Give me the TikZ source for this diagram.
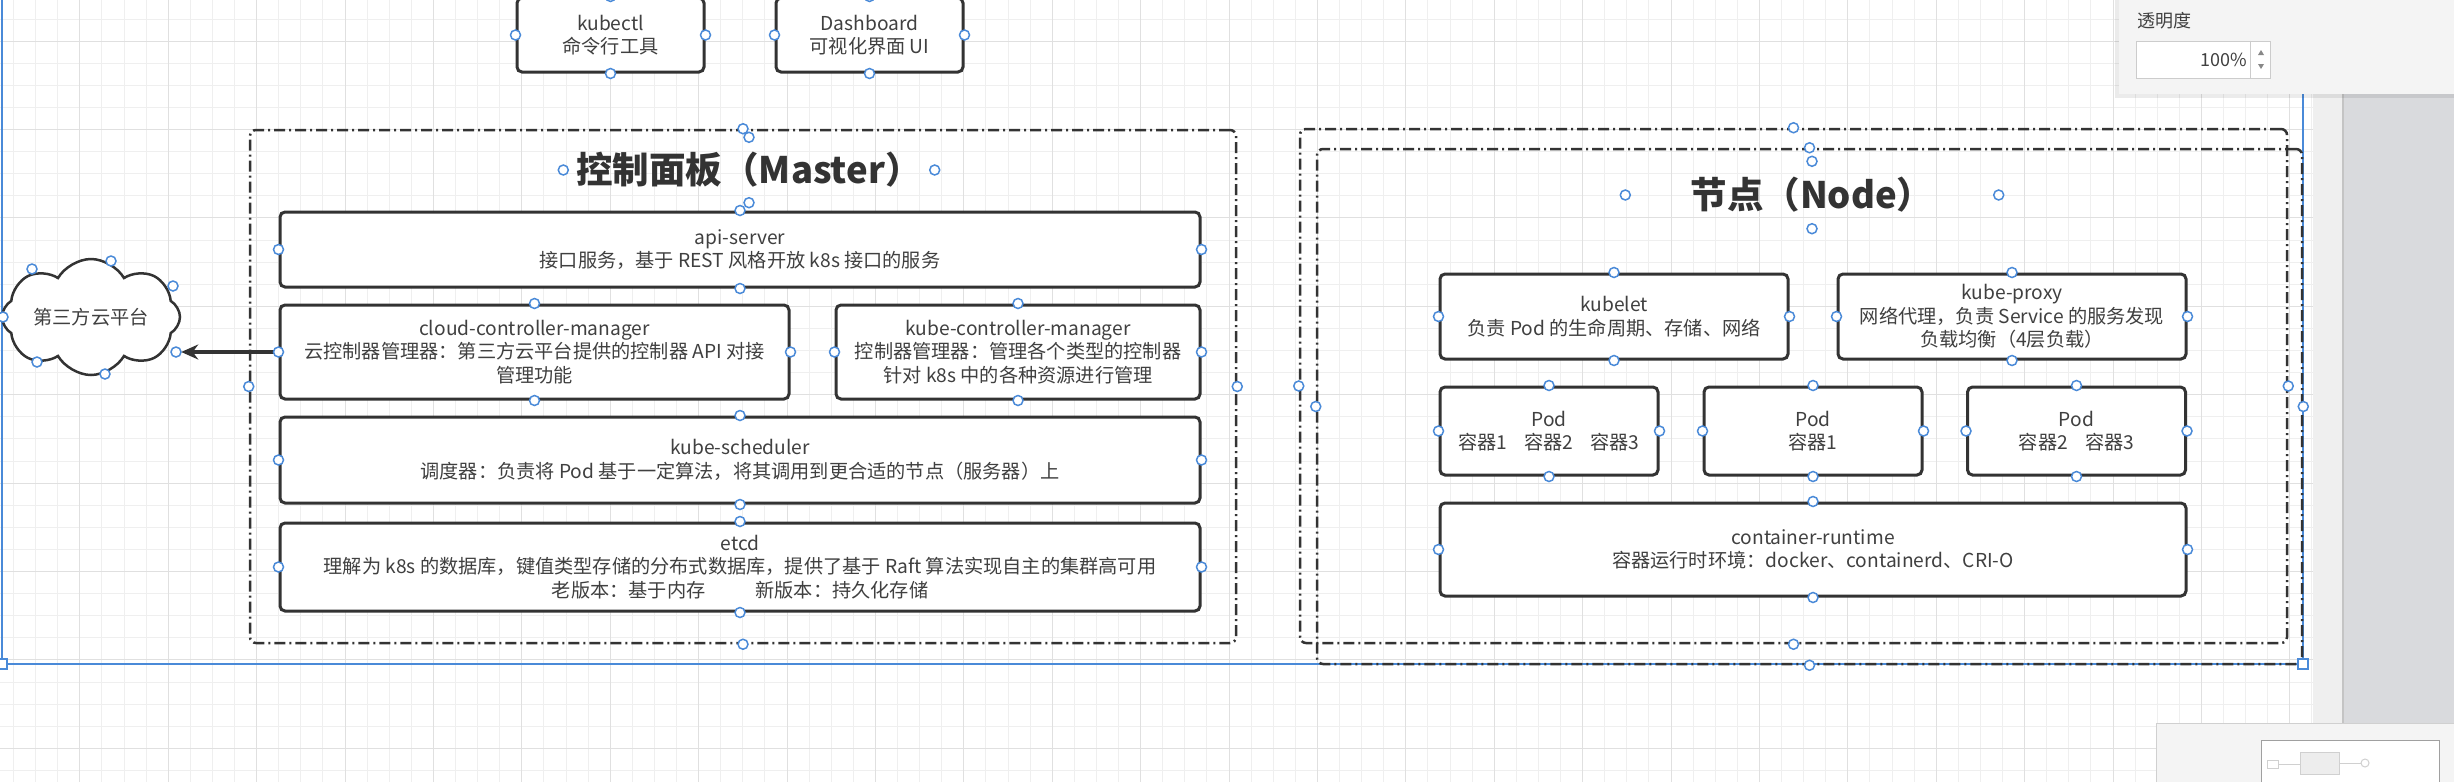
\documentclass[tikz,border=0pt]{standalone}
\usepackage{fontspec}
\setmainfont{Noto Sans CJK SC}
\usetikzlibrary{arrows.meta,shapes.symbols}

\definecolor{ink}{HTML}{333333}
\definecolor{txt}{HTML}{404040}
\definecolor{selblue}{HTML}{4A8AD8}
\definecolor{gridmin}{HTML}{EFEFEF}
\definecolor{gridmaj}{HTML}{E0E0E0}
\definecolor{stripgray}{HTML}{EFEFEF}
\definecolor{sidegray}{HTML}{D9DADD}
\definecolor{edgegray}{HTML}{C4C4C4}
\definecolor{panelgray}{HTML}{F4F4F4}
\definecolor{linegray}{HTML}{CCCCCC}
\definecolor{arrowgray}{HTML}{888888}
\definecolor{mapgray}{HTML}{D0D0D0}
\definecolor{mapfill}{HTML}{EDEDED}
\definecolor{mapedge}{HTML}{A0A0A0}

\tikzset{
    box/.style={draw=ink, line width=3pt, rounded corners=5pt, fill=white, align=center,
        text=txt, font=\fontsize{19.2}{23.4}\selectfont, inner sep=0pt},
    frame/.style={draw=ink, line width=2.5pt, rounded corners=6pt,
        dash pattern=on 11pt off 4pt on 2pt off 4pt, inner sep=0pt},
    ttl/.style={font=\fontsize{36.5}{42}\selectfont\bfseries, text=ink, inner sep=0pt},
    hdl/.style={draw=selblue, fill=white, line width=1.5pt},
    conn/.style={draw=ink, line width=4pt, -{Stealth[length=17pt,width=15pt]}},
}

\begin{document}
\begin{tikzpicture}[x=1pt,y=-1pt]
    \useasboundingbox (0,0) rectangle (2454,782);

    %%%%%%%%% Griglia %%%%%%%%%
    \fill[white] (0,0) rectangle (2454,782);
    \foreach \i in {0,...,104}
        \draw[gridmin, line width=1pt] ({13.5+22.1*\i},0) -- ({13.5+22.1*\i},782);
    \foreach \j in {0,...,34}
        \draw[gridmin, line width=1pt] (0,{19+22.1*\j}) -- (2313,{19+22.1*\j});
    \foreach \i in {3,7,...,103}
        \draw[gridmaj, line width=1pt] ({13.5+22.1*\i},0) -- ({13.5+22.1*\i},782);
    \foreach \j in {1,5,...,33}
        \draw[gridmaj, line width=1pt] (0,{19+22.1*\j}) -- (2313,{19+22.1*\j});

    %%%%%%%%% Bordo destro %%%%%%%%%
    \fill[stripgray] (2313,0) rectangle (2343,782);
    \fill[sidegray] (2343,0) rectangle (2454,723);
    \draw[edgegray, line width=1.5pt] (2343,94) -- (2343,723);

    %%%%%%%%% Selezione %%%%%%%%%
    \draw[selblue, line width=1.5pt] (2,-5) -- (2,664) -- (2303,664) -- (2303,94);

    %%%%%%%%% Riquadri %%%%%%%%%
    \node[frame, minimum width=986pt, minimum height=513pt] (mframe) at (743,386.5) {};
    \node[frame, minimum width=987pt, minimum height=514pt] (nframeA) at (1793.5,386) {};
    \node[frame, minimum width=985pt, minimum height=515pt] (nframeB) at (1809.5,406.5) {};

    \node[ttl, minimum width=371pt, minimum height=65pt] (mtitle) at (749,170) {控制面板（Master）};
    \node[ttl, minimum width=373pt, minimum height=67pt] (ntitle) at (1812,195) {节点（Node）};

    %%%%%%%%% Client %%%%%%%%%
    \node[box, minimum width=187pt, minimum height=74pt] (kubectl) at (610.5,35) {kubectl\\命令行工具};
    \node[box, minimum width=187pt, minimum height=74pt] (dash) at (869.5,35) {Dashboard\\可视化界面 UI};

    %%%%%%%%% Master %%%%%%%%%
    \node[box, minimum width=920pt, minimum height=75pt] (api) at (740,249.5)
        {api-server\\接口服务，基于 REST 风格开放 k8s 接口的服务};
    \node[box, minimum width=509pt, minimum height=94pt] (ccm) at (534.5,352)
        {cloud-controller-manager\\云控制器管理器：第三方云平台提供的控制器 API 对接\\管理功能};
    \node[box, minimum width=364pt, minimum height=94pt] (kcm) at (1018,352)
        {kube-controller-manager\\控制器管理器：管理各个类型的控制器\\针对 k8s 中的各种资源进行管理};
    \node[box, minimum width=920pt, minimum height=86pt] (sched) at (740,460)
        {kube-scheduler\\调度器：负责将 Pod 基于一定算法，将其调用到更合适的节点（服务器）上};
    \node[box, minimum width=920pt, minimum height=88pt] (etcd) at (740,567)
        {etcd\\理解为 k8s 的数据库，键值类型存储的分布式数据库，提供了基于 Raft 算法实现自主的集群高可用\\老版本：基于内存\hspace*{50pt}新版本：持久化存储};

    %%%%%%%%% Cloud %%%%%%%%%
    \node[cloud, draw=ink, line width=2.5pt, fill=white, cloud puffs=8, cloud puff arc=120,
        cloud ignores aspect, minimum width=178pt, minimum height=116pt, inner sep=0pt,
        text=txt, font=\fontsize{19.2}{23.4}\selectfont] (cld) at (91,317) {第三方云平台};
    \draw[conn] (ccm.west) -- (ccm.west -| cld.east);

    %%%%%%%%% Node %%%%%%%%%
    \node[box, minimum width=348pt, minimum height=85pt] (kubelet) at (1614,316.5)
        {kubelet\\负责 Pod 的生命周期、存储、网络};
    \node[box, minimum width=348pt, minimum height=85pt] (kproxy) at (2012,316.5)
        {kube-proxy\\网络代理，负责 Service 的服务发现\\负载均衡（4层负载）};
    \node[box, minimum width=218pt, minimum height=88pt] (pod1) at (1549,431)
        {Pod\\容器1\hspace*{17pt}容器2\hspace*{17pt}容器3};
    \node[box, minimum width=218pt, minimum height=88pt] (pod2) at (1813,431) {Pod\\容器1};
    \node[box, minimum width=218pt, minimum height=88pt] (pod3) at (2076.5,431)
        {Pod\\容器2\hspace*{17pt}容器3};
    \node[box, minimum width=746pt, minimum height=93pt] (runtime) at (1813,549.5)
        {container-runtime\\容器运行时环境：docker、containerd、CRI-O};

    %%%%%%%%% Maniglie %%%%%%%%%
    \foreach \n in {kubectl,dash,api,ccm,kcm,sched,etcd,kubelet,kproxy,pod1,pod2,pod3,runtime,mframe,nframeA,nframeB,mtitle,ntitle}
        \foreach \a in {north,south,east,west}
            \draw[hdl] (\n.\a) circle (5pt);
    \foreach \p in {(32,269),(111,261),(173,286),(3,317),(176,352),(37,362),(105,374)}
        \draw[hdl] \p circle (5pt);
    \draw[hdl] (-3,659) rectangle (7,669);
    \draw[hdl] (2298,659) rectangle (2308,669);

    %%%%%%%%% Pannello %%%%%%%%%
    \fill[black, opacity=0.08] (2115,0) rectangle (2454,98);
    \fill[panelgray] (2119,0) rectangle (2454,94);
    \node[text=txt, font=\fontsize{18}{20}\selectfont, inner sep=0pt] (lblopa) at (2164,21) {透明度};
    \node[draw=linegray, fill=white, line width=1pt, minimum width=134pt, minimum height=37pt, inner sep=0pt] (opabox) at (2203,59.5) {};
    \node[anchor=east, text=txt, font=\fontsize{18}{20}\selectfont, inner sep=0pt] (opaval) at (2247,60) {100\%};
    \draw[linegray, line width=1pt] (opabox.north east) ++(-20,0) -- ++(0,37);
    \fill[arrowgray] (2258,55) -- (2264,55) -- (2261,50) -- cycle;
    \fill[arrowgray] (2258,64) -- (2264,64) -- (2261,69) -- cycle;

    %%%%%%%%% Minimappa %%%%%%%%%
    \fill[panelgray] (2156,723) rectangle (2454,782);
    \draw[mapgray, line width=1pt] (2156,782) -- (2156,723) -- (2454,723);
    \draw[mapedge, fill=white, line width=1pt] (2261,782) -- (2261,740) -- (2439,740) -- (2439,782);
    \draw[mapgray, line width=1pt] (2267,760) rectangle (2278,768);
    \draw[mapgray, line width=1pt] (2278,764) -- (2300,764);
    \draw[mapgray, fill=mapfill, line width=1pt] (2300,752) rectangle (2339,774);
    \draw[mapgray, line width=1pt] (2339,763) -- (2361,763);
    \draw[mapgray, line width=1pt] (2365,763) circle (4pt);
\end{tikzpicture}
\end{document}
